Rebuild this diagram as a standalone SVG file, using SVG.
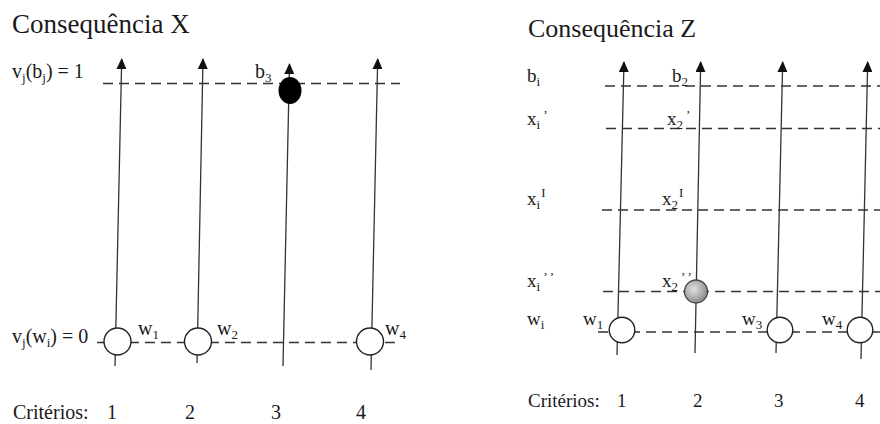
<svg xmlns="http://www.w3.org/2000/svg" width="880" height="424" viewBox="0 0 880 424">
<style>
text{font-family:"Liberation Serif","DejaVu Serif","Noto Serif",serif;fill:#1a1a1a}
.title{font-size:27px}
.lbl{font-size:20px}
.rl{font-size:19px}
.sub{font-size:13px}
.axis{stroke:#333;stroke-width:1.3;fill:none;marker-end:url(#ah)}
.dash{stroke:#333;stroke-width:1.3;fill:none;stroke-dasharray:10 6}
.node{fill:#fff;stroke:#222;stroke-width:1.4}
</style>
<defs>
<marker id="ah" viewBox="0 0 11 10" refX="10" refY="5" markerWidth="11" markerHeight="10" markerUnits="userSpaceOnUse" orient="auto">
<path d="M0,0 L11,5 L0,10 z" fill="#111"/>
</marker>
<radialGradient id="gr" cx="0.4" cy="0.4" r="0.7">
<stop offset="0" stop-color="#e0e0e0"/>
<stop offset="0.6" stop-color="#a8a8a8"/>
<stop offset="1" stop-color="#777"/>
</radialGradient>
</defs>
<rect width="880" height="424" fill="#fff"/>

<!-- Panel X -->
<text class="title" x="12" y="33" font-family="Liberation Serif, serif">Consequência X</text>
<g id="levels-x">
<line class="dash" x1="103" y1="83.5" x2="400" y2="83.5"/>
<line class="dash" x1="97" y1="342.5" x2="397" y2="342.5"/>
</g>
<g id="connectors-x">
<line class="axis" x1="115" y1="366" x2="121.7" y2="59"/>
<line class="axis" x1="197" y1="363" x2="203" y2="59"/>
<line class="axis" x1="283" y1="366" x2="289.5" y2="64"/>
<line class="axis" x1="371" y1="370" x2="377.7" y2="59"/>
</g>
<g id="node-w1-x"><circle class="node" cx="117.5" cy="341.5" r="13.5"/></g>
<g id="node-w2-x"><circle class="node" cx="198" cy="341.5" r="13.5"/></g>
<g id="node-w4-x"><circle class="node" cx="370" cy="341.5" r="13.5"/></g>
<g id="node-b3-x"><ellipse cx="290" cy="90.5" rx="11.5" ry="13.5" fill="#000"/></g>
<g id="labels-x">
<text class="lbl" x="12" y="78">v<tspan class="sub" dy="4">j</tspan><tspan dy="-4">(b</tspan><tspan class="sub" dy="4">j</tspan><tspan dy="-4">) = 1</tspan></text>
<text class="lbl" x="255" y="78">b<tspan class="sub" dy="4">3</tspan></text>
<text class="lbl" x="12" y="343">v<tspan class="sub" dy="4">j</tspan><tspan dy="-4">(w</tspan><tspan class="sub" dy="4">i</tspan><tspan dy="-4">) = 0</tspan></text>
<text class="lbl" x="138" y="335">w<tspan class="sub" dy="4">1</tspan></text>
<text class="lbl" x="217" y="335">w<tspan class="sub" dy="4">2</tspan></text>
<text class="lbl" x="385" y="335">w<tspan class="sub" dy="4">4</tspan></text>
<text class="lbl" x="13" y="419">Critérios:</text>
<text class="lbl" x="107" y="419">1</text>
<text class="lbl" x="185" y="419">2</text>
<text class="lbl" x="271" y="419">3</text>
<text class="lbl" x="356" y="419">4</text>
</g>

<!-- Panel Z -->
<text class="title" x="528" y="37" style="font-size:26px">Consequência Z</text>
<g id="levels-z">
<line class="dash" x1="605" y1="86" x2="880" y2="86"/>
<line class="dash" x1="606" y1="128.5" x2="880" y2="128.5"/>
<line class="dash" x1="602" y1="210" x2="880" y2="210"/>
<line class="dash" x1="603" y1="291.5" x2="880" y2="291.5"/>
<line class="dash" x1="598" y1="332" x2="880" y2="332"/>
</g>
<g id="connectors-z">
<line class="axis" x1="617" y1="355" x2="624" y2="62"/>
<line class="axis" x1="695" y1="353" x2="700.7" y2="62"/>
<line class="axis" x1="776" y1="353" x2="782.7" y2="62"/>
<line class="axis" x1="861" y1="359" x2="867.7" y2="62"/>
</g>
<g id="node-w1-z"><circle class="node" cx="622" cy="330" r="12.8"/></g>
<g id="node-w3-z"><circle class="node" cx="780" cy="330" r="12.8"/></g>
<g id="node-w4-z"><circle class="node" cx="860" cy="330" r="12.8"/></g>
<g id="node-x2-z"><circle cx="696" cy="291.5" r="11.5" fill="url(#gr)" stroke="#444" stroke-width="1.3"/></g>
<g id="labels-z">
<text class="rl" x="527" y="82">b<tspan class="sub" dy="4">i</tspan></text>
<text class="rl" x="672" y="82">b<tspan class="sub" dy="4">2</tspan></text>
<text class="rl" x="527" y="125">x<tspan class="sub" dy="4">i</tspan><tspan class="sub" dx="3" dy="-10">’</tspan></text>
<text class="rl" x="667" y="125">x<tspan class="sub" dy="4">2</tspan><tspan class="sub" dx="3" dy="-10">’</tspan></text>
<text class="rl" x="527" y="205">x<tspan class="sub" dy="4">i</tspan><tspan class="sub" dx="1" dy="-12">I</tspan></text>
<text class="rl" x="662" y="205">x<tspan class="sub" dy="4">2</tspan><tspan class="sub" dx="1" dy="-12">I</tspan></text>
<text class="rl" x="527" y="287">x<tspan class="sub" dy="4">i</tspan><tspan class="sub" dx="3" dy="-10">’ ’</tspan></text>
<text class="rl" x="662" y="287">x<tspan class="sub" dy="4">2</tspan><tspan class="sub" dx="3" dy="-10">’ ’</tspan></text>
<text class="rl" x="527" y="325">w<tspan class="sub" dy="4">i</tspan></text>
<text class="rl" x="583" y="325">w<tspan class="sub" dy="4">1</tspan></text>
<text class="rl" x="742" y="325">w<tspan class="sub" dy="4">3</tspan></text>
<text class="rl" x="822" y="325">w<tspan class="sub" dy="4">4</tspan></text>
<text class="rl" x="528" y="407">Critérios:</text>
<text class="rl" x="617" y="407">1</text>
<text class="rl" x="693" y="407">2</text>
<text class="rl" x="774" y="407">3</text>
<text class="rl" x="855" y="407">4</text>
</g>
</svg>
